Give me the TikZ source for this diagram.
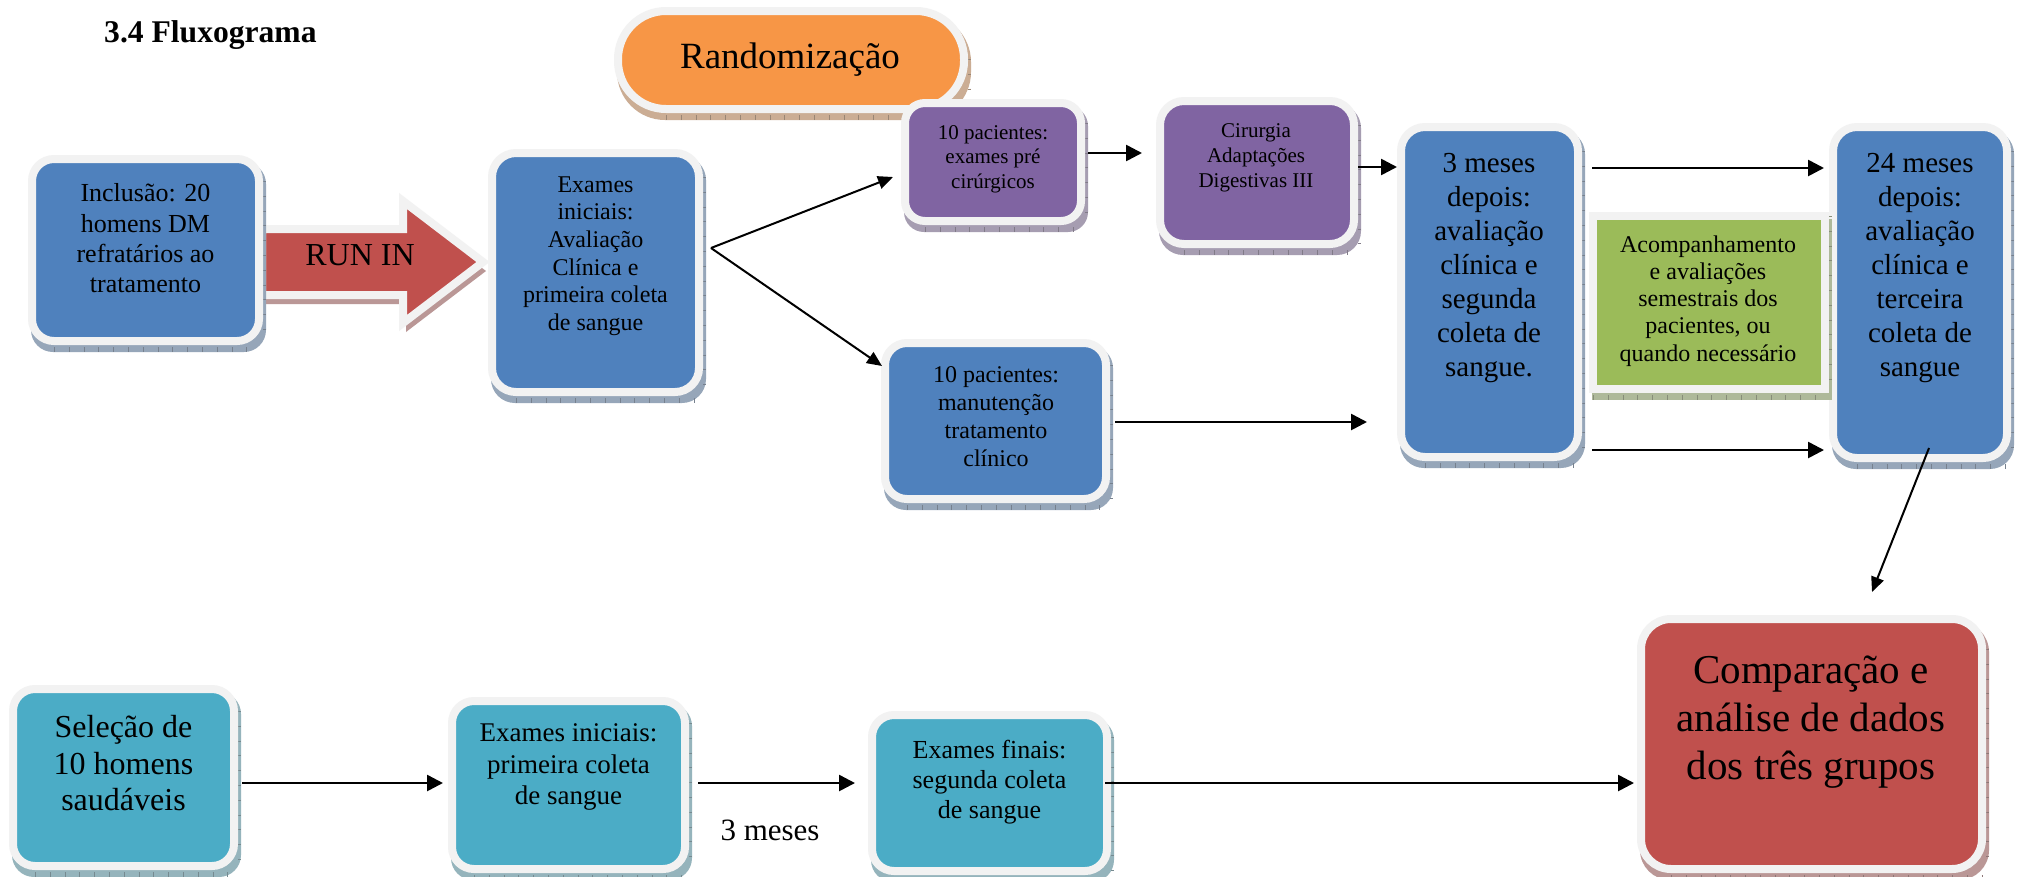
\documentclass[tikz,border=0pt]{standalone}
\usepackage{fontspec}
\setmainfont{Liberation Serif}
\usetikzlibrary{arrows.meta}
\definecolor{cblue}{HTML}{4F81BD}
\definecolor{cpurple}{HTML}{8064A2}
\definecolor{corange}{HTML}{F79646}
\definecolor{cred}{HTML}{C0504D}
\definecolor{cgreen}{HTML}{9BBB59}
\definecolor{cteal}{HTML}{4BACC6}
\definecolor{cborder}{HTML}{F2F2F2}
\newcommand\mybox[7]{%
  \fill[#6!45!gray!70!white, rounded corners=#7pt]
    ({#2-#4/2-1},{#3-#5/2+3}) rectangle ({#2+#4/2+7},{#3+#5/2+11});
  \draw[#6!35!black!60!white, line width=5pt, dash pattern=on 0.8pt off 14pt]
    ({#2-#4/2+#7},{#3+#5/2+8.5}) -- ({#2+#4/2},{#3+#5/2+8.5});
  \draw[#6!35!black!60!white, line width=3pt, dash pattern=on 0.8pt off 14pt]
    ({#2+#4/2+5.5},{#3-#5/2+#7}) -- ({#2+#4/2+5.5},{#3+#5/2});
  \node[box, fill=#6, rounded corners=#7pt, minimum width=#4pt, minimum height=#5pt] (#1) at (#2,#3) {};
}
\tikzset{
  box/.style={draw=cborder, line width=8pt, inner sep=0pt},
  txt/.style={align=center, inner sep=0pt, text=black},
  arr/.style={line width=2.6pt, -{Triangle[length=16pt,width=16pt]}},
  thinarr/.style={line width=2pt, -{Triangle[length=15pt,width=13pt]}},
}
\begin{document}
\begin{tikzpicture}[x=1pt,y=-1pt]
\useasboundingbox[fill=white] (0,0) rectangle (2017,876);

% title
\node[anchor=base west, inner sep=0pt, font=\bfseries\fontsize{31.6}{36}\selectfont] (title) at (104,42) {3.4 Fluxograma};

% RUN IN arrow
\fill[cred!45!gray!70!white, shift={(3,9)}] (262,229) -- (403,229) -- (403,201) -- (483,262) -- (403,323) -- (403,295) -- (262,295) -- cycle;
\draw[draw=cborder, line width=8pt, fill=cred, line join=miter] (262,229) -- (403,229) -- (403,201) -- (483,262) -- (403,323) -- (403,295) -- (262,295) -- cycle;
\node[anchor=base, inner sep=0pt, font=\fontsize{32}{36}\selectfont] (runin) at (360,265) {RUN IN};

% boxes
\mybox{rand}{791}{60}{346}{98}{corange}{48}
\mybox{incl}{145.5}{250}{227}{182}{cblue}{22}
\mybox{exI}{595.5}{272.5}{207}{239}{cblue}{24}
\mybox{pre}{993}{162}{176}{118}{cpurple}{20}
\mybox{cir}{1257}{172.5}{194}{143}{cpurple}{24}
\mybox{man}{995.5}{421}{221}{156}{cblue}{22}
\mybox{m3}{1489.5}{292}{177}{330}{cblue}{24}
\mybox{m24}{1920}{292.5}{174}{331}{cblue}{24}
\mybox{grn}{1709}{302.5}{232}{173}{cgreen}{0}
\mybox{sel}{123.5}{777.5}{221}{177}{cteal}{22}
\mybox{exB}{568.5}{785}{233}{168}{cteal}{22}
\mybox{fin}{989.5}{793}{235}{156}{cteal}{22}
\mybox{comp}{1811.5}{744}{341}{250}{cred}{30}

% texts
\node[anchor=base, inner sep=0pt, font=\fontsize{37}{42}\selectfont] (randT) at (790,68) {Randomização};
\node[txt, font=\fontsize{26}{30.3}\selectfont] (inclT) at (145.5,238.5) {Inclusão: 20\\homens DM\\refratários ao\\tratamento};
\node[txt, font=\fontsize{24}{27.6}\selectfont] (exIT) at (595.5,256) {Exames\\iniciais:\\Avaliação\\Clínica e\\primeira coleta\\de sangue};
\node[txt, font=\fontsize{21}{24.3}\selectfont] (preT) at (993,159) {10 pacientes:\\exames pré\\cirúrgicos};
\node[txt, font=\fontsize{21}{24.7}\selectfont] (cirT) at (1256,158) {Cirurgia\\Adaptações\\Digestivas III};
\node[txt, font=\fontsize{24}{28}\selectfont] (manT) at (996,416.7) {10 pacientes:\\manutenção\\tratamento\\clínico};
\node[txt, font=\fontsize{29}{34}\selectfont] (m3T) at (1489,268.2) {3 meses\\depois:\\avaliação\\clínica e\\segunda\\coleta de\\sangue.};
\node[txt, font=\fontsize{29}{34}\selectfont] (m24T) at (1920,268.2) {24 meses\\depois:\\avaliação\\clínica e\\terceira\\coleta de\\sangue};
\node[txt, font=\fontsize{24}{27.3}\selectfont] (grnT) at (1708,300.9) {Acompanhamento\\e avaliações\\semestrais dos\\pacientes, ou\\quando necessário};
\node[txt, font=\fontsize{32}{36.5}\selectfont] (selT) at (123.5,763.5) {Seleção de\\10 homens\\saudáveis};
\node[txt, font=\fontsize{27}{31.5}\selectfont] (exBT) at (568.5,767) {Exames iniciais:\\primeira coleta\\de sangue};
\node[txt, font=\fontsize{26}{30}\selectfont] (finT) at (989.5,781.9) {Exames finais:\\segunda coleta\\de sangue};
\node[txt, font=\fontsize{41}{48}\selectfont] (compT) at (1811,722.5) {Comparação e\\análise de dados\\dos três grupos};
\node[anchor=base, inner sep=0pt, font=\fontsize{31}{36}\selectfont] (lbl3) at (770,840) {3 meses};

% connector points
\coordinate (br) at (711,248);
\coordinate (preIn) at (893,177);
\coordinate (manIn) at (882,366);
\coordinate (preOut) at (1088,153);
\coordinate (cirIn) at (1142,153);
\coordinate (cirOut) at (1358,167);
\coordinate (m3In) at (1397,167);
\coordinate (manOut) at (1115,422);
\coordinate (manEnd) at (1367,422);
\coordinate (m3OutA) at (1592,168);
\coordinate (m24InA) at (1824,168);
\coordinate (m3OutB) at (1592,450);
\coordinate (m24InB) at (1824,450);
\coordinate (m24Out) at (1929,448);
\coordinate (compIn) at (1872,592);
\coordinate (selOut) at (242,783);
\coordinate (exBIn) at (443,783);
\coordinate (exBOut) at (698,783);
\coordinate (finIn) at (855,783);
\coordinate (finOut) at (1105,783);
\coordinate (compInB) at (1634,783);

% arrows
\draw[thinarr] (br) -- (preIn);
\draw[thinarr] (br) -- (manIn);
\draw[arr] (preOut) -- (cirIn);
\draw[arr] (cirOut) -- (m3In);
\draw[arr] (manOut) -- (manEnd);
\draw[arr] (m3OutA) -- (m24InA);
\draw[arr] (m3OutB) -- (m24InB);
\draw[thinarr] (m24Out) -- (compIn);
\draw[arr] (selOut) -- (exBIn);
\draw[arr] (exBOut) -- (finIn);
\draw[arr] (finOut) -- (compInB);
\end{tikzpicture}
\end{document}
